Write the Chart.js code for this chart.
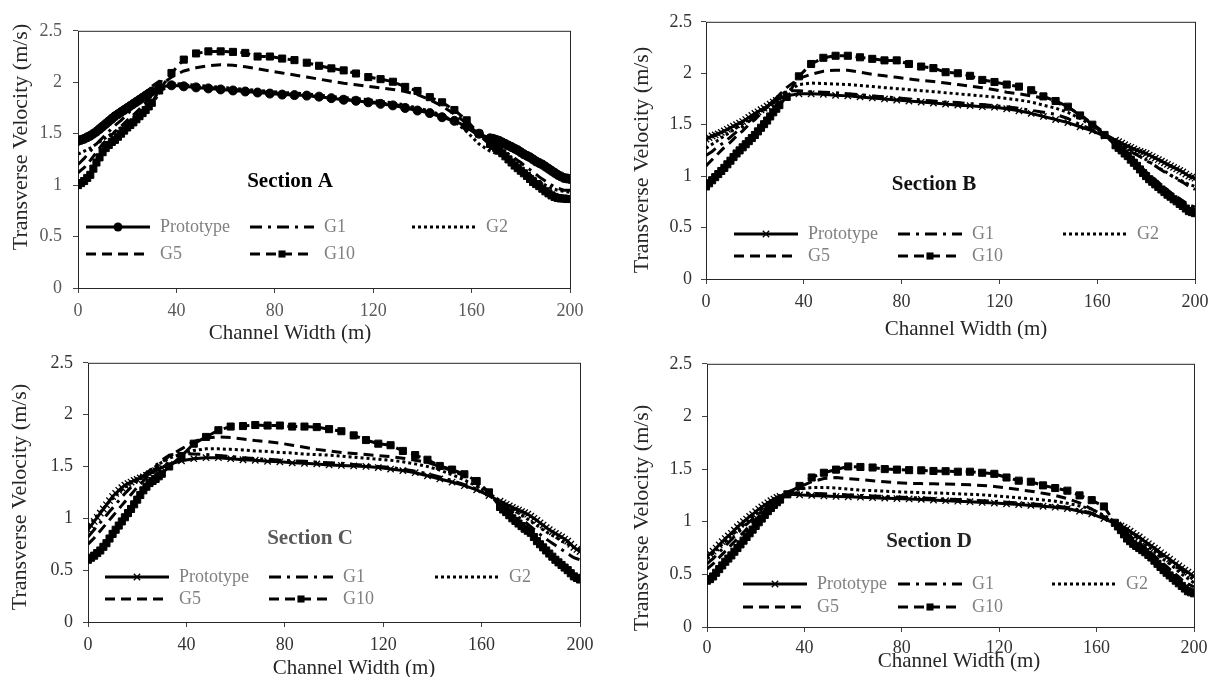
<!DOCTYPE html>
<html>
<head>
<meta charset="utf-8">
<script src="https://cdn.jsdelivr.net/npm/chart.js@4.4.1/dist/chart.umd.min.js"></script>
<style>
  html, body { margin: 0; padding: 0; background: #fff; }
  #page { position: relative; width: 1210px; height: 677px; overflow: hidden; background: #fff; }
  #page canvas { position: absolute; }
</style>
</head>
<body>
<div id="page">
  <canvas id="secA"></canvas>
  <canvas id="secB"></canvas>
  <canvas id="secC"></canvas>
  <canvas id="secD"></canvas>
</div>
<script>
// Stations across the channel (m): every 1.25 m near the banks, every 5 m in the middle
const stations = [
  0, 1.25, 2.5, 3.75, 5, 6.25, 7.5, 8.75, 10, 11.25, 12.5, 13.75, 15, 16.25, 17.5, 18.75, 20, 21.25, 22.5, 23.75, 25, 26.25, 27.5, 28.75, 30,
  33, 38, 43, 48, 53, 58, 63, 68, 73, 78, 83, 88, 93, 98, 103, 108, 113, 118, 123, 128, 133, 138, 143, 148, 153, 158, 163,
  167.5, 168.75, 170, 171.25, 172.5, 173.75, 175, 176.25, 177.5, 178.75, 180, 181.25, 182.5, 183.75, 185, 186.25, 187.5, 188.75, 190, 191.25, 192.5, 193.75, 195, 196.25, 197.5, 198.75, 200];

const seriesNames = ['Prototype', 'G1', 'G2', 'G5', 'G10'];
const xTicks = [0, 40, 80, 120, 160, 200];
const yTicks = [0, 0.5, 1, 1.5, 2, 2.5];

// Section A
const protoA = [
  1.43, 1.44, 1.45, 1.465, 1.48, 1.50, 1.52, 1.545, 1.57, 1.595, 1.62, 1.645, 1.67, 1.69, 1.71, 1.73, 1.75, 1.77, 1.79, 1.81, 1.83, 1.85, 1.87, 1.89, 1.91,
  1.95, 1.97, 1.96, 1.95, 1.94, 1.93, 1.92, 1.91, 1.90, 1.89, 1.88, 1.875, 1.87, 1.86, 1.845, 1.83, 1.82, 1.805, 1.79, 1.775, 1.75, 1.725, 1.70, 1.66, 1.625, 1.57, 1.50,
  1.455, 1.45, 1.44, 1.43, 1.415, 1.40, 1.385, 1.37, 1.355, 1.34, 1.32, 1.30, 1.285, 1.27, 1.25, 1.23, 1.215, 1.20, 1.18, 1.16, 1.14, 1.12, 1.10, 1.085, 1.07, 1.065, 1.06];
const g1A = [
  1.20, 1.23, 1.26, 1.295, 1.33, 1.365, 1.40, 1.43, 1.46, 1.49, 1.52, 1.55, 1.58, 1.605, 1.63, 1.66, 1.69, 1.72, 1.75, 1.785, 1.82, 1.855, 1.89, 1.925, 1.96,
  2.01, 1.99, 1.975, 1.96, 1.95, 1.94, 1.93, 1.92, 1.91, 1.90, 1.89, 1.88, 1.87, 1.86, 1.85, 1.835, 1.825, 1.81, 1.80, 1.785, 1.765, 1.74, 1.71, 1.67, 1.62, 1.56, 1.48,
  1.41, 1.395, 1.38, 1.36, 1.34, 1.32, 1.30, 1.28, 1.26, 1.24, 1.22, 1.195, 1.17, 1.15, 1.13, 1.105, 1.08, 1.06, 1.04, 1.02, 1.00, 0.985, 0.97, 0.96, 0.95, 0.95, 0.95];
const g2A = [
  1.30, 1.315, 1.33, 1.345, 1.36, 1.38, 1.40, 1.42, 1.44, 1.46, 1.48, 1.50, 1.52, 1.54, 1.56, 1.58, 1.60, 1.62, 1.64, 1.66, 1.68, 1.70, 1.72, 1.745, 1.77,
  1.90, 1.99, 1.98, 1.97, 1.96, 1.95, 1.94, 1.93, 1.92, 1.91, 1.90, 1.895, 1.885, 1.875, 1.86, 1.85, 1.84, 1.83, 1.815, 1.80, 1.78, 1.75, 1.72, 1.68, 1.62, 1.52, 1.40,
  1.33, 1.32, 1.31, 1.295, 1.28, 1.26, 1.24, 1.22, 1.20, 1.18, 1.16, 1.14, 1.12, 1.10, 1.08, 1.06, 1.04, 1.02, 1.00, 0.985, 0.97, 0.96, 0.95, 0.945, 0.94, 0.935, 0.93];
const g5A = [
  1.12, 1.145, 1.17, 1.205, 1.24, 1.28, 1.32, 1.36, 1.40, 1.43, 1.46, 1.49, 1.52, 1.545, 1.57, 1.60, 1.63, 1.655, 1.68, 1.71, 1.74, 1.77, 1.80, 1.835, 1.87,
  1.96, 2.05, 2.11, 2.14, 2.16, 2.17, 2.165, 2.15, 2.13, 2.11, 2.09, 2.07, 2.05, 2.03, 2.01, 1.99, 1.975, 1.96, 1.945, 1.93, 1.91, 1.88, 1.83, 1.77, 1.69, 1.60, 1.49,
  1.39, 1.365, 1.34, 1.315, 1.29, 1.265, 1.24, 1.21, 1.18, 1.155, 1.13, 1.105, 1.08, 1.055, 1.03, 1.01, 0.99, 0.97, 0.95, 0.935, 0.92, 0.91, 0.90, 0.895, 0.89, 0.885, 0.88];
const g10A = [
  1.00, 1.02, 1.04, 1.07, 1.10, 1.16, 1.22, 1.27, 1.32, 1.36, 1.39, 1.42, 1.44, 1.47, 1.50, 1.53, 1.56, 1.585, 1.61, 1.64, 1.67, 1.70, 1.73, 1.765, 1.80,
  1.92, 2.09, 2.22, 2.28, 2.30, 2.30, 2.295, 2.285, 2.25, 2.25, 2.23, 2.215, 2.19, 2.16, 2.135, 2.115, 2.085, 2.05, 2.03, 2.005, 1.955, 1.915, 1.855, 1.805, 1.73, 1.63, 1.50,
  1.40, 1.38, 1.36, 1.335, 1.31, 1.28, 1.25, 1.22, 1.19, 1.165, 1.14, 1.115, 1.09, 1.06, 1.03, 1.01, 0.99, 0.965, 0.94, 0.92, 0.90, 0.885, 0.875, 0.87, 0.87, 0.865, 0.865];

// Section B
const protoB = [
  1.36, 1.375, 1.39, 1.40, 1.41, 1.425, 1.44, 1.455, 1.47, 1.485, 1.50, 1.515, 1.53, 1.55, 1.57, 1.59, 1.61, 1.625, 1.645, 1.66, 1.68, 1.70, 1.72, 1.735, 1.75,
  1.78, 1.80, 1.80, 1.795, 1.785, 1.78, 1.77, 1.76, 1.75, 1.74, 1.73, 1.72, 1.71, 1.70, 1.69, 1.685, 1.675, 1.67, 1.655, 1.635, 1.61, 1.58, 1.55, 1.52, 1.48, 1.44, 1.39,
  1.35, 1.335, 1.32, 1.305, 1.29, 1.28, 1.265, 1.25, 1.24, 1.23, 1.22, 1.205, 1.19, 1.175, 1.16, 1.145, 1.13, 1.115, 1.10, 1.085, 1.07, 1.055, 1.04, 1.02, 1.00, 0.99, 0.98];
const g1B = [
  1.20, 1.22, 1.24, 1.265, 1.29, 1.31, 1.33, 1.355, 1.38, 1.405, 1.43, 1.455, 1.48, 1.505, 1.53, 1.555, 1.58, 1.605, 1.63, 1.655, 1.68, 1.705, 1.73, 1.755, 1.78,
  1.83, 1.83, 1.82, 1.815, 1.81, 1.80, 1.79, 1.78, 1.77, 1.76, 1.75, 1.74, 1.73, 1.72, 1.715, 1.705, 1.695, 1.685, 1.675, 1.66, 1.64, 1.62, 1.60, 1.56, 1.50, 1.45, 1.39,
  1.33, 1.315, 1.30, 1.28, 1.26, 1.24, 1.22, 1.205, 1.19, 1.17, 1.15, 1.135, 1.12, 1.10, 1.08, 1.06, 1.04, 1.025, 1.01, 0.99, 0.97, 0.955, 0.94, 0.92, 0.90, 0.885, 0.87];
const g2B = [
  1.27, 1.29, 1.31, 1.33, 1.35, 1.37, 1.39, 1.41, 1.43, 1.45, 1.47, 1.49, 1.51, 1.53, 1.55, 1.57, 1.59, 1.61, 1.63, 1.65, 1.67, 1.69, 1.71, 1.735, 1.76,
  1.82, 1.89, 1.905, 1.90, 1.895, 1.89, 1.88, 1.87, 1.86, 1.85, 1.84, 1.83, 1.82, 1.81, 1.80, 1.79, 1.78, 1.77, 1.755, 1.74, 1.72, 1.69, 1.66, 1.62, 1.56, 1.49, 1.41,
  1.35, 1.33, 1.31, 1.29, 1.27, 1.25, 1.23, 1.21, 1.19, 1.175, 1.16, 1.14, 1.12, 1.10, 1.08, 1.065, 1.05, 1.03, 1.01, 0.995, 0.98, 0.965, 0.95, 0.935, 0.92, 0.91, 0.90];
const g5B = [
  1.10, 1.13, 1.16, 1.19, 1.22, 1.25, 1.28, 1.305, 1.33, 1.36, 1.39, 1.415, 1.44, 1.47, 1.50, 1.525, 1.55, 1.58, 1.61, 1.64, 1.67, 1.70, 1.73, 1.76, 1.79,
  1.86, 1.95, 1.99, 2.02, 2.03, 2.03, 2.01, 1.99, 1.975, 1.96, 1.945, 1.93, 1.92, 1.905, 1.89, 1.875, 1.86, 1.84, 1.815, 1.80, 1.78, 1.76, 1.72, 1.67, 1.60, 1.51, 1.42,
  1.33, 1.305, 1.28, 1.25, 1.22, 1.19, 1.16, 1.13, 1.10, 1.07, 1.04, 1.015, 0.99, 0.965, 0.94, 0.915, 0.89, 0.865, 0.84, 0.82, 0.80, 0.78, 0.76, 0.74, 0.72, 0.71, 0.70];
const g10B = [
  0.90, 0.93, 0.96, 0.99, 1.02, 1.05, 1.08, 1.115, 1.15, 1.185, 1.22, 1.25, 1.28, 1.31, 1.34, 1.37, 1.40, 1.435, 1.47, 1.505, 1.54, 1.58, 1.62, 1.655, 1.69,
  1.77, 1.97, 2.09, 2.15, 2.17, 2.17, 2.155, 2.14, 2.125, 2.125, 2.09, 2.065, 2.05, 2.01, 2.00, 1.975, 1.935, 1.915, 1.89, 1.87, 1.835, 1.775, 1.73, 1.675, 1.59, 1.50, 1.40,
  1.30, 1.275, 1.25, 1.22, 1.195, 1.16, 1.13, 1.10, 1.065, 1.03, 1.00, 0.97, 0.945, 0.92, 0.895, 0.87, 0.845, 0.82, 0.80, 0.775, 0.755, 0.73, 0.71, 0.685, 0.66, 0.65, 0.64];

// Section C
const protoC = [
  0.89, 0.93, 0.97, 1.01, 1.05, 1.09, 1.13, 1.17, 1.21, 1.24, 1.27, 1.295, 1.32, 1.335, 1.35, 1.365, 1.375, 1.39, 1.40, 1.415, 1.43, 1.445, 1.46, 1.475, 1.49,
  1.52, 1.555, 1.575, 1.585, 1.585, 1.575, 1.565, 1.56, 1.55, 1.545, 1.535, 1.53, 1.525, 1.515, 1.51, 1.505, 1.50, 1.49, 1.475, 1.46, 1.44, 1.41, 1.38, 1.35, 1.315, 1.275, 1.22,
  1.165, 1.15, 1.135, 1.12, 1.105, 1.09, 1.08, 1.065, 1.055, 1.04, 1.02, 1.00, 0.98, 0.955, 0.935, 0.91, 0.89, 0.87, 0.855, 0.835, 0.82, 0.80, 0.78, 0.75, 0.72, 0.70, 0.68];
const g1C = [
  0.82, 0.855, 0.89, 0.925, 0.96, 0.995, 1.03, 1.065, 1.10, 1.135, 1.17, 1.205, 1.24, 1.27, 1.30, 1.33, 1.36, 1.385, 1.41, 1.435, 1.46, 1.485, 1.51, 1.535, 1.56,
  1.61, 1.625, 1.62, 1.615, 1.605, 1.595, 1.585, 1.575, 1.57, 1.56, 1.555, 1.55, 1.54, 1.535, 1.53, 1.52, 1.51, 1.50, 1.49, 1.475, 1.455, 1.43, 1.40, 1.365, 1.325, 1.28, 1.22,
  1.15, 1.13, 1.11, 1.085, 1.06, 1.035, 1.01, 0.99, 0.97, 0.945, 0.92, 0.895, 0.87, 0.845, 0.82, 0.80, 0.78, 0.76, 0.74, 0.72, 0.70, 0.68, 0.66, 0.64, 0.62, 0.61, 0.60];
const g2C = [
  0.92, 0.955, 0.99, 1.025, 1.06, 1.095, 1.13, 1.16, 1.19, 1.22, 1.25, 1.275, 1.30, 1.32, 1.34, 1.36, 1.38, 1.40, 1.42, 1.44, 1.46, 1.48, 1.50, 1.52, 1.54,
  1.58, 1.62, 1.655, 1.67, 1.67, 1.665, 1.66, 1.65, 1.645, 1.635, 1.63, 1.62, 1.615, 1.61, 1.60, 1.59, 1.58, 1.57, 1.56, 1.545, 1.525, 1.50, 1.465, 1.42, 1.37, 1.31, 1.24,
  1.17, 1.15, 1.13, 1.11, 1.09, 1.07, 1.05, 1.03, 1.01, 0.99, 0.97, 0.95, 0.93, 0.91, 0.89, 0.87, 0.85, 0.835, 0.82, 0.80, 0.78, 0.765, 0.75, 0.735, 0.72, 0.71, 0.70];
const g5C = [
  0.75, 0.78, 0.81, 0.845, 0.88, 0.915, 0.95, 0.985, 1.02, 1.055, 1.09, 1.125, 1.16, 1.195, 1.23, 1.265, 1.30, 1.33, 1.36, 1.39, 1.42, 1.45, 1.48, 1.51, 1.54,
  1.60, 1.67, 1.74, 1.775, 1.785, 1.78, 1.765, 1.75, 1.74, 1.725, 1.705, 1.685, 1.665, 1.65, 1.635, 1.625, 1.615, 1.605, 1.595, 1.58, 1.56, 1.54, 1.50, 1.46, 1.41, 1.34, 1.25,
  1.15, 1.12, 1.09, 1.06, 1.03, 1.00, 0.97, 0.94, 0.91, 0.88, 0.85, 0.82, 0.79, 0.76, 0.73, 0.70, 0.67, 0.645, 0.62, 0.595, 0.57, 0.545, 0.52, 0.50, 0.48, 0.465, 0.45];
const g10C = [
  0.60, 0.62, 0.64, 0.665, 0.69, 0.725, 0.76, 0.805, 0.85, 0.89, 0.93, 0.97, 1.01, 1.05, 1.09, 1.135, 1.18, 1.225, 1.27, 1.305, 1.34, 1.36, 1.38, 1.405, 1.43,
  1.50, 1.60, 1.72, 1.785, 1.85, 1.885, 1.89, 1.90, 1.895, 1.895, 1.885, 1.885, 1.88, 1.86, 1.84, 1.80, 1.755, 1.72, 1.705, 1.65, 1.61, 1.565, 1.505, 1.47, 1.425, 1.36, 1.25,
  1.11, 1.085, 1.06, 1.03, 1.00, 0.975, 0.95, 0.925, 0.90, 0.88, 0.86, 0.82, 0.78, 0.75, 0.72, 0.69, 0.66, 0.63, 0.60, 0.575, 0.55, 0.525, 0.50, 0.47, 0.44, 0.425, 0.41];

// Section D
const protoD = [
  0.67, 0.695, 0.72, 0.75, 0.78, 0.81, 0.84, 0.865, 0.89, 0.92, 0.95, 0.975, 1.00, 1.025, 1.05, 1.07, 1.095, 1.12, 1.14, 1.16, 1.18, 1.20, 1.215, 1.23, 1.24,
  1.26, 1.255, 1.25, 1.245, 1.24, 1.237, 1.233, 1.228, 1.224, 1.22, 1.216, 1.212, 1.206, 1.20, 1.195, 1.19, 1.183, 1.177, 1.17, 1.163, 1.155, 1.147, 1.138, 1.125, 1.10, 1.075, 1.03,
  0.985, 0.97, 0.96, 0.945, 0.93, 0.91, 0.89, 0.87, 0.855, 0.83, 0.81, 0.79, 0.77, 0.75, 0.73, 0.705, 0.685, 0.665, 0.645, 0.62, 0.60, 0.58, 0.56, 0.54, 0.52, 0.50, 0.48];
const g1D = [
  0.60, 0.625, 0.65, 0.68, 0.71, 0.74, 0.77, 0.80, 0.83, 0.86, 0.89, 0.92, 0.95, 0.975, 1.00, 1.025, 1.05, 1.075, 1.10, 1.125, 1.15, 1.17, 1.19, 1.21, 1.23,
  1.27, 1.275, 1.27, 1.265, 1.26, 1.255, 1.25, 1.245, 1.24, 1.235, 1.23, 1.225, 1.22, 1.215, 1.21, 1.205, 1.20, 1.193, 1.186, 1.178, 1.17, 1.16, 1.15, 1.135, 1.11, 1.08, 1.04,
  0.99, 0.975, 0.96, 0.945, 0.93, 0.91, 0.89, 0.87, 0.85, 0.83, 0.81, 0.785, 0.76, 0.74, 0.72, 0.695, 0.67, 0.65, 0.63, 0.605, 0.58, 0.56, 0.54, 0.515, 0.49, 0.47, 0.45];
const g2D = [
  0.65, 0.675, 0.70, 0.73, 0.76, 0.785, 0.81, 0.84, 0.87, 0.895, 0.92, 0.945, 0.97, 0.995, 1.02, 1.045, 1.07, 1.095, 1.12, 1.14, 1.16, 1.18, 1.20, 1.22, 1.24,
  1.28, 1.31, 1.325, 1.325, 1.32, 1.31, 1.30, 1.295, 1.29, 1.285, 1.28, 1.277, 1.274, 1.27, 1.265, 1.26, 1.255, 1.247, 1.237, 1.227, 1.217, 1.207, 1.195, 1.175, 1.15, 1.12, 1.06,
  1.00, 0.98, 0.96, 0.94, 0.92, 0.90, 0.88, 0.855, 0.83, 0.805, 0.78, 0.76, 0.74, 0.715, 0.69, 0.665, 0.64, 0.62, 0.60, 0.575, 0.55, 0.525, 0.50, 0.48, 0.46, 0.44, 0.42];
const g5D = [
  0.55, 0.575, 0.60, 0.63, 0.66, 0.69, 0.72, 0.75, 0.78, 0.81, 0.84, 0.87, 0.90, 0.93, 0.96, 0.99, 1.02, 1.05, 1.08, 1.105, 1.13, 1.155, 1.18, 1.205, 1.23,
  1.28, 1.33, 1.38, 1.41, 1.42, 1.41, 1.40, 1.39, 1.38, 1.37, 1.365, 1.362, 1.36, 1.358, 1.355, 1.35, 1.345, 1.335, 1.32, 1.305, 1.29, 1.27, 1.25, 1.22, 1.18, 1.12, 1.05,
  0.98, 0.96, 0.94, 0.915, 0.89, 0.865, 0.84, 0.82, 0.80, 0.775, 0.75, 0.725, 0.70, 0.675, 0.65, 0.625, 0.60, 0.575, 0.55, 0.525, 0.50, 0.475, 0.45, 0.43, 0.41, 0.395, 0.38];
const g10D = [
  0.44, 0.455, 0.48, 0.515, 0.55, 0.585, 0.62, 0.65, 0.68, 0.715, 0.75, 0.785, 0.82, 0.855, 0.89, 0.925, 0.96, 0.995, 1.03, 1.065, 1.10, 1.13, 1.16, 1.185, 1.21,
  1.26, 1.34, 1.42, 1.465, 1.495, 1.525, 1.52, 1.515, 1.50, 1.495, 1.49, 1.488, 1.482, 1.48, 1.475, 1.475, 1.465, 1.455, 1.42, 1.39, 1.38, 1.345, 1.32, 1.295, 1.25, 1.205, 1.145,
  0.99, 0.955, 0.92, 0.88, 0.84, 0.815, 0.79, 0.77, 0.75, 0.73, 0.71, 0.685, 0.66, 0.63, 0.60, 0.57, 0.54, 0.515, 0.49, 0.465, 0.44, 0.415, 0.39, 0.365, 0.34, 0.33, 0.32];

const SERIF = '"Liberation Serif", "Times New Roman", serif';

// line dash per run: solid, dash-dot, dotted, dashed, dashed
const lineDash = [[], [12, 6, 3, 6], [3, 3], [10, 6], [10, 6]];

// page layout of each panel (plot box + where the texts sit)
const panels = [
  { id: 'secA', title: 'Section A', series: [protoA, g1A, g2A, g5A, g10A], protoMarker: 'circle',
    area: { left: 78, top: 23, right: 570, bottom: 288 }, yTickPad: 11, xTickPad: 7, tickColor: '#595959',
    yTitle: { x: 21, y: 137 }, xTitle: { x: 290, y: 333 },
    label: { x: 290, y: 182, color: '#000' },
    legend: { cols: [86, 250, 412], rows: [227, 254] } },
  { id: 'secB', title: 'Section B', series: [protoB, g1B, g2B, g5B, g10B], protoMarker: 'crossRot',
    area: { left: 706, top: 16, right: 1195, bottom: 279 }, yTickPad: 9, xTickPad: 7, tickColor: '#333',
    yTitle: { x: 642, y: 160 }, xTitle: { x: 966, y: 329 },
    label: { x: 934, y: 185, color: '#111' },
    legend: { cols: [734, 898, 1063], rows: [234, 256] } },
  { id: 'secC', title: 'Section C', series: [protoC, g1C, g2C, g5C, g10C], protoMarker: 'crossRot',
    area: { left: 88, top: 356, right: 580, bottom: 622 }, yTickPad: 10, xTickPad: 7, tickColor: '#333',
    yTitle: { x: 20, y: 497 }, xTitle: { x: 354, y: 668 },
    label: { x: 310, y: 539, color: '#595959' },
    legend: { cols: [105, 269, 435], rows: [577, 599] } },
  { id: 'secD', title: 'Section D', series: [protoD, g1D, g2D, g5D, g10D], protoMarker: 'crossRot',
    area: { left: 707, top: 357, right: 1194, bottom: 627 }, yTickPad: 10, xTickPad: 5.5, tickColor: '#333',
    yTitle: { x: 642, y: 518 }, xTitle: { x: 959, y: 661 },
    label: { x: 929, y: 542, color: '#222' },
    legend: { cols: [743, 898, 1052], rows: [584, 607] } }
];

const legendSlots = [[0, 0], [0, 1], [0, 2], [1, 0], [1, 1]];

function drawMarker(ctx, style, x, y, r) {
  ctx.beginPath();
  if (style === 'circle') {
    ctx.arc(x, y, r, 0, Math.PI * 2);
    ctx.fill();
  } else if (style === 'rect') {
    const s = r * Math.SQRT1_2;
    ctx.fillRect(x - s, y - s, 2 * s, 2 * s);
  } else if (style === 'crossRot') {
    const s = r * Math.SQRT1_2;
    ctx.moveTo(x - s, y - s); ctx.lineTo(x + s, y + s);
    ctx.moveTo(x - s, y + s); ctx.lineTo(x + s, y - s);
    ctx.stroke();
  }
}

// frame, in-plot legend, section name and axis titles
const panelDecor = {
  id: 'panelDecor',
  beforeDatasetsDraw(chart) {
    const { ctx, chartArea: a } = chart;
    ctx.save();
    ctx.strokeStyle = '#262626';
    ctx.lineWidth = 1;
    ctx.strokeRect(a.left + 0.5, a.top + 0.5, a.right - a.left, a.bottom - a.top);
    ctx.restore();
  },
  afterDraw(chart, args, opts) {
    const ctx = chart.ctx;
    const px = x => x - opts.ox;
    const py = y => y - opts.oy;

    ctx.save();
    ctx.textBaseline = 'middle';

    // legend entries: line sample with its marker, then the name
    chart.data.datasets.forEach((ds, i) => {
      const [r, c] = legendSlots[i];
      const x0 = px(opts.legend.cols[c]);
      const y0 = py(opts.legend.rows[r]);
      const len = 64;
      ctx.strokeStyle = '#000';
      ctx.fillStyle = '#000';
      ctx.lineWidth = ds.borderWidth;
      ctx.setLineDash(ds.borderDash);
      ctx.beginPath();
      ctx.moveTo(x0, y0);
      ctx.lineTo(x0 + len, y0);
      ctx.stroke();
      ctx.setLineDash([]);
      if (ds.pointRadius > 0) {
        ctx.lineWidth = ds.pointBorderWidth;
        drawMarker(ctx, ds.pointStyle, x0 + len / 2, y0, ds.pointRadius);
      }
      ctx.fillStyle = '#808080';
      ctx.textAlign = 'left';
      ctx.font = '18px ' + SERIF;
      ctx.fillText(ds.label, x0 + len + 10, y0);
    });

    // section name
    ctx.font = 'bold 21px ' + SERIF;
    ctx.fillStyle = opts.label.color;
    ctx.textAlign = 'center';
    ctx.fillText(opts.title, px(opts.label.x), py(opts.label.y));

    // axis titles
    ctx.font = '21px ' + SERIF;
    ctx.fillStyle = '#262626';
    ctx.fillText('Channel Width (m)', px(opts.xTitle.x), py(opts.xTitle.y));
    ctx.font = '22px ' + SERIF;
    ctx.translate(px(opts.yTitle.x), py(opts.yTitle.y));
    ctx.rotate(-Math.PI / 2);
    ctx.fillText('Transverse Velocity (m/s)', 0, 0);
    ctx.restore();
  }
};

function makePanel(p) {
  const ox = p.area.left - 80;
  const oy = p.area.top - 14;
  const w = p.area.right - p.area.left + 104;
  const h = p.area.bottom - p.area.top + 74;
  const canvas = document.getElementById(p.id);
  canvas.width = w;
  canvas.height = h;
  canvas.style.left = ox + 'px';
  canvas.style.top = oy + 'px';
  canvas.style.width = w + 'px';
  canvas.style.height = h + 'px';

  const datasets = p.series.map((vals, i) => ({
    label: seriesNames[i],
    data: stations.map((x, k) => ({ x: x, y: vals[k] })),
    borderColor: '#000',
    backgroundColor: '#000',
    borderWidth: 3,
    borderDash: lineDash[i],
    pointStyle: i === 0 ? p.protoMarker : 'rect',
    pointRadius: i === 0 ? (p.protoMarker === 'circle' ? 4.5 : 4.5) : (i === 4 ? 5 : 0),
    pointBorderWidth: i === 0 && p.protoMarker === 'crossRot' ? 1.3 : 1,
    pointBackgroundColor: '#000',
    pointBorderColor: '#000',
    fill: false,
    tension: 0
  }));

  const tickFont = { family: SERIF, size: 18 };

  new Chart(canvas.getContext('2d'), {
    type: 'line',
    data: { datasets: datasets },
    options: {
      responsive: false,
      devicePixelRatio: 1,
      animation: false,
      events: [],
      layout: { padding: { left: 0, top: 14, right: 24, bottom: 0 } },
      plugins: {
        legend: { display: false },
        tooltip: { enabled: false },
        panelDecor: {
          ox: ox, oy: oy, title: p.title, label: p.label, legend: p.legend,
          xTitle: p.xTitle, yTitle: p.yTitle
        }
      },
      scales: {
        x: {
          type: 'linear', min: 0, max: 200,
          afterFit: s => { s.height = 60; },
          afterBuildTicks: s => { s.ticks = xTicks.map(v => ({ value: v })); },
          ticks: { padding: p.xTickPad, color: p.tickColor, font: tickFont, maxRotation: 0, callback: v => String(v) },
          grid: { drawOnChartArea: false, drawTicks: true, tickLength: 5, color: '#444' },
          border: { display: false }
        },
        y: {
          type: 'linear', min: 0, max: 2.5,
          afterFit: s => { s.width = 80; },
          afterBuildTicks: s => { s.ticks = yTicks.map(v => ({ value: v })); },
          ticks: { padding: p.yTickPad, color: p.tickColor, font: tickFont, callback: v => String(v) },
          grid: { drawOnChartArea: false, drawTicks: true, tickLength: 5, color: '#444' },
          border: { display: false }
        }
      }
    },
    plugins: [panelDecor]
  });
}

panels.forEach(makePanel);
</script>
</body>
</html>
